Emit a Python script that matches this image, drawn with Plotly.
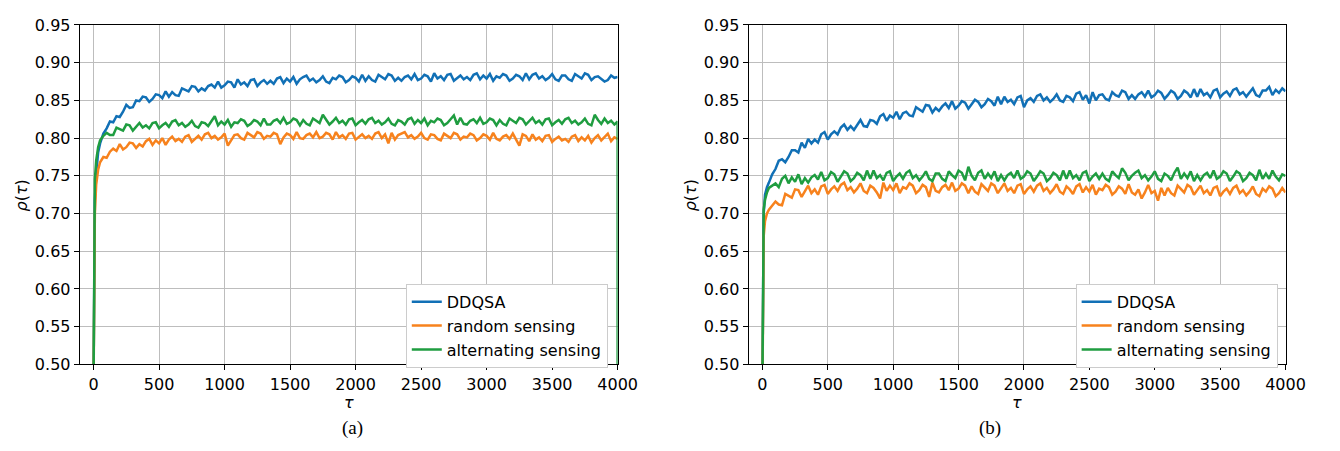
import plotly.graph_objects as go

# Time steps: a few early samples, then every 25 steps up to 4000
tau = [0, 5, 10, 20, 35, 50, 75] + list(range(100, 4001, 25))

# ---------------- (a) ----------------
ddqsa_a = [
    0.480, 0.660, 0.718, 0.752, 0.781, 0.793, 0.806,
    0.813, 0.822, 0.821, 0.829, 0.828, 0.835, 0.844, 0.840, 0.841, 0.850,
    0.849, 0.855, 0.854, 0.848, 0.852, 0.858, 0.857, 0.853, 0.862, 0.855,
    0.861, 0.857, 0.856, 0.866, 0.864, 0.862, 0.869, 0.868, 0.862, 0.866,
    0.863, 0.869, 0.871, 0.867, 0.875, 0.867, 0.870, 0.875, 0.874, 0.867,
    0.878, 0.871, 0.874, 0.869, 0.877, 0.878, 0.869, 0.874, 0.877, 0.872,
    0.876, 0.872, 0.879, 0.881, 0.873, 0.879, 0.875, 0.881, 0.872, 0.878,
    0.881, 0.883, 0.876, 0.879, 0.874, 0.877, 0.882, 0.875, 0.873, 0.880,
    0.878, 0.883, 0.881, 0.874, 0.877, 0.882, 0.880, 0.875, 0.884, 0.876,
    0.882, 0.877, 0.875, 0.884, 0.881, 0.878, 0.885, 0.883, 0.876, 0.880,
    0.876, 0.881, 0.883, 0.878, 0.885, 0.877, 0.879, 0.884, 0.882, 0.875,
    0.886, 0.879, 0.882, 0.877, 0.884, 0.885, 0.876, 0.880, 0.883, 0.878,
    0.881, 0.877, 0.884, 0.886, 0.878, 0.883, 0.879, 0.885, 0.876, 0.882,
    0.880, 0.885, 0.883, 0.876, 0.879, 0.884, 0.882, 0.877, 0.886, 0.878,
    0.884, 0.886, 0.879, 0.882, 0.877, 0.880, 0.885, 0.878, 0.876, 0.883,
    0.883, 0.878, 0.876, 0.885, 0.882, 0.879, 0.886, 0.884, 0.877, 0.881,
    0.882, 0.879, 0.875, 0.877, 0.883, 0.880, 0.881,
]

random_a = [
    0.470, 0.640, 0.700, 0.738, 0.758, 0.768, 0.775,
    0.774, 0.782, 0.786, 0.783, 0.792, 0.785, 0.788, 0.794, 0.793, 0.787,
    0.792, 0.789, 0.796, 0.799, 0.791, 0.797, 0.793, 0.800, 0.791, 0.798,
    0.802, 0.796, 0.799, 0.795, 0.802, 0.804, 0.795, 0.799, 0.803, 0.798,
    0.805, 0.807, 0.800, 0.803, 0.798, 0.801, 0.806, 0.790, 0.797, 0.804,
    0.805, 0.800, 0.798, 0.807, 0.804, 0.801, 0.808, 0.806, 0.799, 0.803,
    0.802, 0.807, 0.805, 0.792, 0.801, 0.806, 0.804, 0.799, 0.808, 0.800,
    0.799, 0.804, 0.806, 0.801, 0.808, 0.800, 0.802, 0.807, 0.805, 0.798,
    0.808, 0.801, 0.804, 0.799, 0.806, 0.807, 0.798, 0.802, 0.805, 0.800,
    0.803, 0.799, 0.806, 0.808, 0.800, 0.805, 0.793, 0.807, 0.798, 0.804,
    0.806, 0.808, 0.801, 0.804, 0.799, 0.802, 0.807, 0.800, 0.798, 0.805,
    0.804, 0.799, 0.797, 0.806, 0.803, 0.800, 0.807, 0.805, 0.798, 0.802,
    0.801, 0.806, 0.804, 0.797, 0.800, 0.805, 0.803, 0.798, 0.807, 0.799,
    0.797, 0.802, 0.804, 0.799, 0.806, 0.798, 0.790, 0.805, 0.803, 0.796,
    0.805, 0.798, 0.801, 0.796, 0.803, 0.804, 0.795, 0.799, 0.802, 0.797,
    0.799, 0.795, 0.802, 0.804, 0.796, 0.801, 0.797, 0.803, 0.794, 0.800,
    0.804, 0.797, 0.802, 0.806, 0.796, 0.801, 0.799,
]

# last entry is the drop recorded at the final step
alternating_a = [
    0.475, 0.690, 0.745, 0.770, 0.788, 0.797, 0.803,
    0.807, 0.804, 0.804, 0.814, 0.812, 0.810, 0.818, 0.817, 0.810, 0.815,
    0.820, 0.814, 0.817, 0.813, 0.820, 0.821, 0.813, 0.817, 0.820, 0.815,
    0.822, 0.824, 0.817, 0.820, 0.815, 0.818, 0.823, 0.816, 0.814, 0.821,
    0.820, 0.816, 0.823, 0.829, 0.817, 0.822, 0.818, 0.824, 0.815, 0.821,
    0.820, 0.825, 0.823, 0.816, 0.819, 0.824, 0.822, 0.817, 0.826, 0.818,
    0.818, 0.823, 0.825, 0.820, 0.827, 0.819, 0.821, 0.826, 0.824, 0.817,
    0.824, 0.819, 0.817, 0.826, 0.823, 0.820, 0.831, 0.825, 0.818, 0.822,
    0.827, 0.820, 0.823, 0.818, 0.825, 0.826, 0.817, 0.821, 0.824, 0.819,
    0.825, 0.827, 0.820, 0.823, 0.818, 0.821, 0.826, 0.819, 0.817, 0.824,
    0.822, 0.818, 0.825, 0.827, 0.819, 0.824, 0.820, 0.826, 0.817, 0.823,
    0.821, 0.826, 0.824, 0.817, 0.820, 0.825, 0.830, 0.818, 0.827, 0.819,
    0.818, 0.823, 0.825, 0.820, 0.827, 0.819, 0.821, 0.826, 0.824, 0.817,
    0.824, 0.819, 0.817, 0.826, 0.823, 0.820, 0.827, 0.825, 0.818, 0.822,
    0.827, 0.820, 0.823, 0.818, 0.825, 0.826, 0.817, 0.821, 0.824, 0.819,
    0.825, 0.827, 0.820, 0.823, 0.818, 0.821, 0.826, 0.819, 0.817, 0.831,
    0.824, 0.819, 0.826, 0.820, 0.823, 0.818, 0.822,
    0.000,
]

# ---------------- (b) ----------------
ddqsa_b = [
    0.470, 0.640, 0.700, 0.725, 0.735, 0.741, 0.752,
    0.759, 0.770, 0.772, 0.768, 0.775, 0.784, 0.784, 0.781, 0.794, 0.787,
    0.799, 0.793, 0.798, 0.794, 0.805, 0.808, 0.798, 0.805, 0.809, 0.805,
    0.814, 0.818, 0.811, 0.816, 0.811, 0.817, 0.824, 0.816, 0.815, 0.824,
    0.823, 0.819, 0.829, 0.832, 0.823, 0.830, 0.827, 0.835, 0.825, 0.833,
    0.835, 0.830, 0.829, 0.841, 0.838, 0.835, 0.844, 0.843, 0.834, 0.840,
    0.836, 0.842, 0.846, 0.840, 0.849, 0.839, 0.843, 0.849, 0.847, 0.839,
    0.845, 0.851, 0.848, 0.841, 0.845, 0.852, 0.849, 0.843, 0.855, 0.845,
    0.855, 0.848, 0.851, 0.845, 0.854, 0.856, 0.841, 0.850, 0.853, 0.848,
    0.856, 0.858, 0.850, 0.854, 0.848, 0.852, 0.858, 0.850, 0.848, 0.856,
    0.854, 0.849, 0.859, 0.861, 0.851, 0.857, 0.846, 0.861, 0.850, 0.857,
    0.858, 0.852, 0.850, 0.861, 0.857, 0.855, 0.863, 0.861, 0.852, 0.857,
    0.852, 0.858, 0.861, 0.855, 0.863, 0.854, 0.857, 0.863, 0.860, 0.852,
    0.857, 0.863, 0.860, 0.852, 0.856, 0.863, 0.860, 0.854, 0.865, 0.855,
    0.865, 0.857, 0.860, 0.854, 0.863, 0.865, 0.854, 0.859, 0.862, 0.856,
    0.864, 0.866, 0.858, 0.861, 0.855, 0.860, 0.866, 0.857, 0.855, 0.863,
    0.863, 0.868, 0.857, 0.864, 0.860, 0.866, 0.862,
]

random_b = [
    0.460, 0.620, 0.670, 0.690, 0.700, 0.705, 0.710,
    0.716, 0.712, 0.711, 0.726, 0.723, 0.721, 0.732, 0.731, 0.722, 0.729,
    0.737, 0.727, 0.732, 0.725, 0.736, 0.738, 0.726, 0.732, 0.736, 0.730,
    0.738, 0.741, 0.731, 0.735, 0.728, 0.733, 0.740, 0.730, 0.727, 0.737,
    0.734, 0.728, 0.720, 0.741, 0.730, 0.737, 0.731, 0.740, 0.727, 0.735,
    0.733, 0.740, 0.737, 0.727, 0.731, 0.738, 0.735, 0.722, 0.741, 0.730,
    0.728, 0.735, 0.738, 0.731, 0.741, 0.730, 0.733, 0.740, 0.737, 0.727,
    0.736, 0.729, 0.726, 0.739, 0.734, 0.730, 0.740, 0.737, 0.727, 0.733,
    0.740, 0.730, 0.734, 0.727, 0.737, 0.739, 0.726, 0.732, 0.736, 0.729,
    0.737, 0.740, 0.730, 0.734, 0.727, 0.732, 0.739, 0.729, 0.726, 0.736,
    0.732, 0.726, 0.736, 0.739, 0.728, 0.735, 0.729, 0.738, 0.725, 0.733,
    0.731, 0.738, 0.735, 0.725, 0.729, 0.736, 0.733, 0.726, 0.739, 0.728,
    0.725, 0.732, 0.720, 0.728, 0.738, 0.727, 0.730, 0.717, 0.734, 0.724,
    0.734, 0.727, 0.724, 0.737, 0.732, 0.728, 0.738, 0.735, 0.725, 0.731,
    0.737, 0.727, 0.731, 0.724, 0.734, 0.736, 0.723, 0.729, 0.733, 0.726,
    0.734, 0.737, 0.727, 0.731, 0.724, 0.729, 0.736, 0.726, 0.723, 0.733,
    0.729, 0.736, 0.733, 0.723, 0.727, 0.734, 0.728,
]

alternating_b = [
    0.465, 0.660, 0.705, 0.718, 0.728, 0.734, 0.737,
    0.740, 0.735, 0.746, 0.750, 0.740, 0.748, 0.742, 0.752, 0.739, 0.747,
    0.741, 0.748, 0.751, 0.745, 0.755, 0.744, 0.747, 0.755, 0.752, 0.742,
    0.749, 0.756, 0.753, 0.743, 0.747, 0.754, 0.751, 0.744, 0.757, 0.746,
    0.757, 0.747, 0.751, 0.744, 0.754, 0.756, 0.743, 0.749, 0.753, 0.746,
    0.754, 0.757, 0.747, 0.751, 0.744, 0.749, 0.756, 0.746, 0.743, 0.753,
    0.753, 0.746, 0.743, 0.756, 0.751, 0.747, 0.757, 0.754, 0.744, 0.762,
    0.750, 0.744, 0.754, 0.757, 0.746, 0.753, 0.747, 0.756, 0.743, 0.751,
    0.744, 0.751, 0.754, 0.747, 0.757, 0.746, 0.749, 0.756, 0.753, 0.743,
    0.749, 0.756, 0.753, 0.743, 0.747, 0.754, 0.751, 0.744, 0.757, 0.746,
    0.757, 0.747, 0.751, 0.744, 0.754, 0.756, 0.743, 0.749, 0.753, 0.746,
    0.753, 0.746, 0.743, 0.756, 0.751, 0.747, 0.760, 0.754, 0.744, 0.750,
    0.754, 0.757, 0.747, 0.751, 0.744, 0.749, 0.756, 0.746, 0.743, 0.753,
    0.750, 0.744, 0.754, 0.761, 0.746, 0.753, 0.747, 0.756, 0.743, 0.751,
    0.744, 0.751, 0.754, 0.747, 0.757, 0.746, 0.749, 0.756, 0.753, 0.743,
    0.749, 0.756, 0.753, 0.743, 0.747, 0.754, 0.751, 0.744, 0.758, 0.746,
    0.753, 0.746, 0.757, 0.749, 0.744, 0.752, 0.750,
]

series_names = ["DDQSA", "random sensing", "alternating sensing"]
series_colors = ["#1170b6", "#f7821d", "#1f9d40"]
y_ticks = [0.50, 0.55, 0.60, 0.65, 0.70, 0.75, 0.80, 0.85, 0.90, 0.95]
x_ticks = [0, 500, 1000, 1500, 2000, 2500, 3000, 3500, 4000]
panel_labels = ["(a)", "(b)"]

for s in (ddqsa_a, random_a, ddqsa_b, random_b, alternating_b):
    assert len(s) == len(tau), len(s)
assert len(alternating_a) == len(tau) + 1

W, H = 1340, 451
FONT = "DejaVu Sans"

fig = go.Figure()

panels = [
    ("x", "y", "legend", [ddqsa_a, random_a, alternating_a]),
    ("x2", "y2", "legend2", [ddqsa_b, random_b, alternating_b]),
]
for xa, ya, lg, data in panels:
    for name, color, vals in zip(series_names, series_colors, data):
        xs = tau if len(vals) == len(tau) else tau + [tau[-1]]
        fig.add_trace(go.Scatter(
            x=xs, y=vals, mode="lines", name=name,
            line=dict(color=color, width=2.5),
            xaxis=xa, yaxis=ya, legend=lg,
        ))

# plot area positions in pixels on the W x H canvas
left_px = (81, 627)
right_px = (760, 1305)
top_px, bottom_px = 16.7, 371


def xdom(p):
    return [p[0] / W, p[1] / W]


ydom = [1 - bottom_px / H, 1 - top_px / H]

axis_common = dict(
    showline=True, linecolor="black", linewidth=1.2, mirror=True,
    showgrid=True, gridcolor="#bdbdbd", gridwidth=1.3,
    ticks="outside", ticklen=5, tickwidth=1.2, tickcolor="black",
    tickfont=dict(family=FONT, size=16, color="black"),
    zeroline=False,
)
xcommon = dict(axis_common, range=[-105, 4000], tickvals=x_ticks,
               ticktext=[str(v) for v in x_ticks])
ycommon = dict(axis_common, range=[0.50, 0.95], tickvals=y_ticks,
               ticktext=[f"{v:.2f}" for v in y_ticks])

legend_common = dict(
    bgcolor="white", bordercolor="#cccccc", borderwidth=1,
    font=dict(family=FONT, size=16, color="black"),
    xanchor="right", yanchor="top", tracegroupgap=0,
)

fig.update_layout(
    width=W, height=H,
    margin=dict(l=0, r=0, t=0, b=0),
    paper_bgcolor="white", plot_bgcolor="white",
    xaxis=dict(xcommon, domain=xdom(left_px), anchor="y"),
    yaxis=dict(ycommon, domain=ydom, anchor="x"),
    xaxis2=dict(xcommon, domain=xdom(right_px), anchor="y2"),
    yaxis2=dict(ycommon, domain=ydom, anchor="x2"),
    legend=dict(legend_common, x=617 / W, y=1 - 287 / H),
    legend2=dict(legend_common, x=1297 / W, y=1 - 287 / H),
    showlegend=True,
)

annotations = []
for (l, r), cap_x, lab in zip([left_px, right_px], [358, 1005], panel_labels):
    # y-axis title
    annotations.append(dict(
        x=(l - 59) / W, y=1 - 195 / H, xref="paper", yref="paper",
        text="<i>ρ</i>(<i>τ</i>)", textangle=-90, showarrow=False,
        font=dict(family=FONT, size=16, color="black"),
        xanchor="center", yanchor="middle",
    ))
    # x-axis title
    annotations.append(dict(
        x=((l + r) / 2) / W, y=1 - 411 / H, xref="paper", yref="paper",
        text="<i>τ</i>", showarrow=False,
        font=dict(family=FONT, size=16, color="black"),
        xanchor="center", yanchor="middle",
    ))
    # panel caption
    annotations.append(dict(
        x=cap_x / W, y=1 - 437 / H, xref="paper", yref="paper",
        text=lab, showarrow=False,
        font=dict(family="Liberation Serif", size=19, color="black"),
        xanchor="center", yanchor="middle",
    ))
fig.update_layout(annotations=annotations)

fig.write_html("out.html")
